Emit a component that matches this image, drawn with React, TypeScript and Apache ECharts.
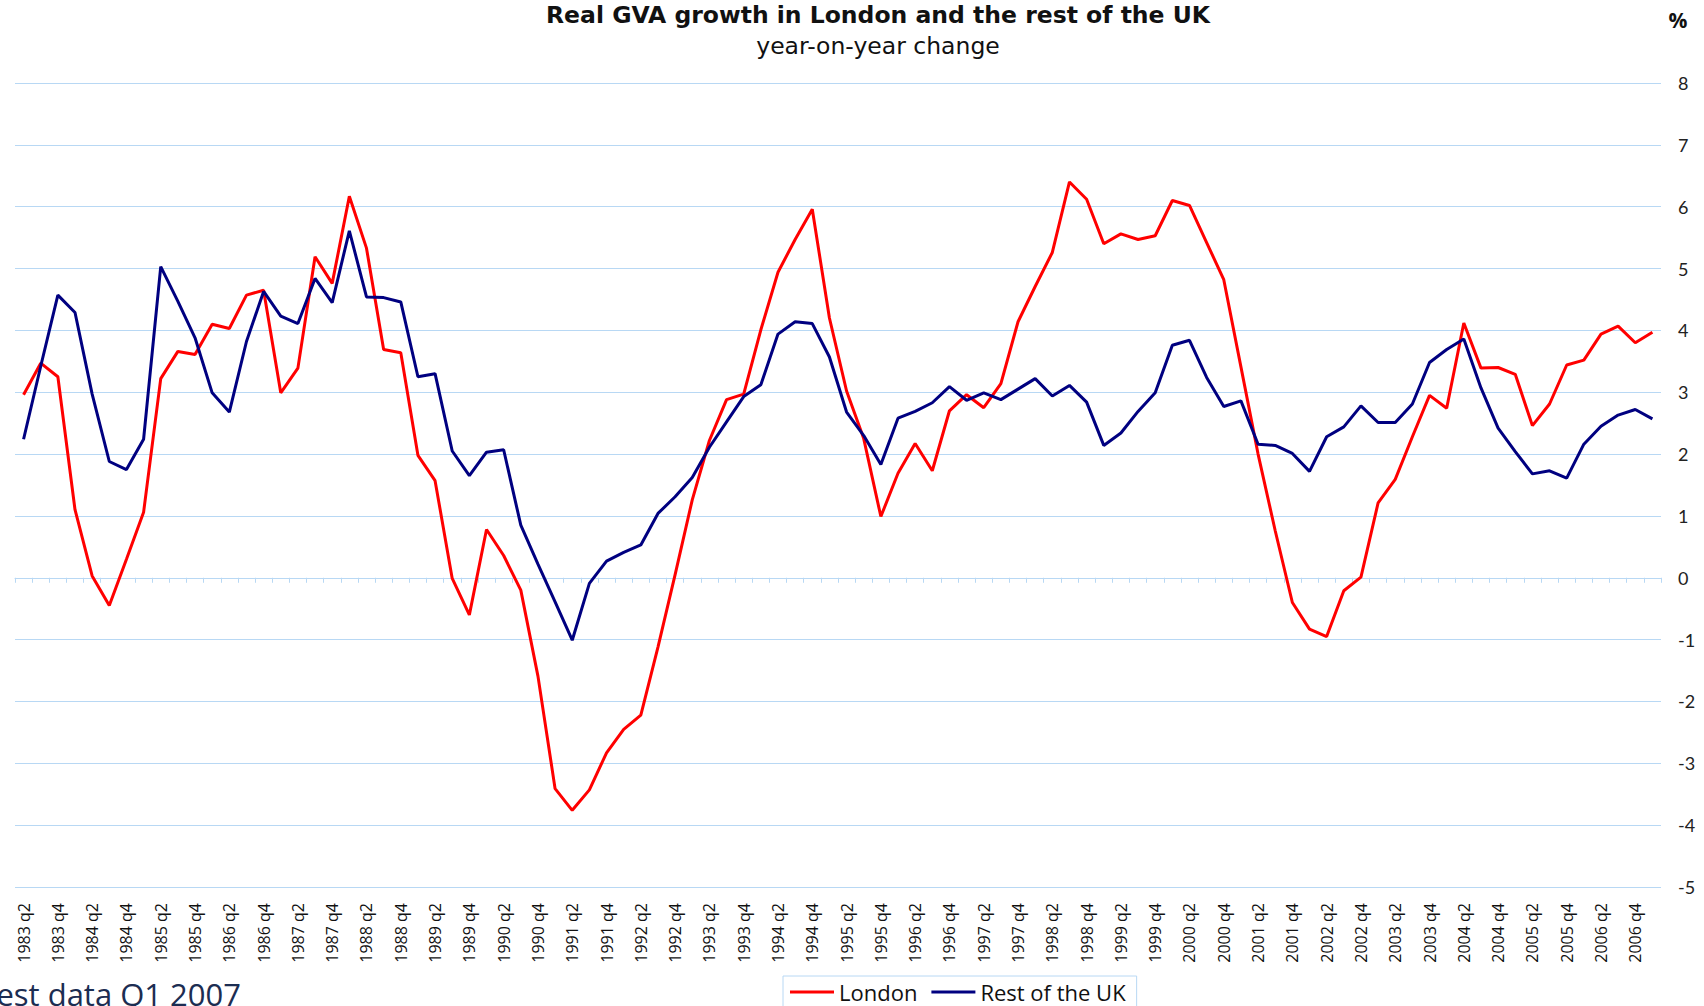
import React, { useEffect, useRef } from "react";
import * as echarts from "echarts";

const quarters: string[] = [
  "1983 q2", "1983 q3", "1983 q4",
  "1984 q1", "1984 q2", "1984 q3", "1984 q4",
  "1985 q1", "1985 q2", "1985 q3", "1985 q4",
  "1986 q1", "1986 q2", "1986 q3", "1986 q4",
  "1987 q1", "1987 q2", "1987 q3", "1987 q4",
  "1988 q1", "1988 q2", "1988 q3", "1988 q4",
  "1989 q1", "1989 q2", "1989 q3", "1989 q4",
  "1990 q1", "1990 q2", "1990 q3", "1990 q4",
  "1991 q1", "1991 q2", "1991 q3", "1991 q4",
  "1992 q1", "1992 q2", "1992 q3", "1992 q4",
  "1993 q1", "1993 q2", "1993 q3", "1993 q4",
  "1994 q1", "1994 q2", "1994 q3", "1994 q4",
  "1995 q1", "1995 q2", "1995 q3", "1995 q4",
  "1996 q1", "1996 q2", "1996 q3", "1996 q4",
  "1997 q1", "1997 q2", "1997 q3", "1997 q4",
  "1998 q1", "1998 q2", "1998 q3", "1998 q4",
  "1999 q1", "1999 q2", "1999 q3", "1999 q4",
  "2000 q1", "2000 q2", "2000 q3", "2000 q4",
  "2001 q1", "2001 q2", "2001 q3", "2001 q4",
  "2002 q1", "2002 q2", "2002 q3", "2002 q4",
  "2003 q1", "2003 q2", "2003 q3", "2003 q4",
  "2004 q1", "2004 q2", "2004 q3", "2004 q4",
  "2005 q1", "2005 q2", "2005 q3", "2005 q4",
  "2006 q1", "2006 q2", "2006 q3", "2006 q4",
  "2007 q1",
];

const london: number[] = [
  2.96, 3.47, 3.25, 1.1, 0.03, -0.45, 0.3, 1.06, 3.22, 3.66, 3.61, 4.1, 4.03, 4.57, 4.65, 2.99,
  3.39, 5.19, 4.76, 6.17, 5.33, 3.69, 3.64, 1.98, 1.57, -0.01, -0.6, 0.78, 0.36, -0.2, -1.59, -3.41,
  -3.76, -3.43, -2.83, -2.45, -2.22, -1.12, 0.05, 1.26, 2.22, 2.88, 2.97, 4.01, 4.94, 5.47, 5.96, 4.2,
  3.02, 2.25, 0.99, 1.69, 2.17, 1.73, 2.7, 2.96, 2.75, 3.14, 4.14, 4.71, 5.26, 6.4, 6.12, 5.4,
  5.56, 5.47, 5.53, 6.1, 6.02, 5.42, 4.82, 3.41, 2.0, 0.76, -0.4, -0.83, -0.95, -0.21, 0.01, 1.21,
  1.59, 2.28, 2.95, 2.74, 4.12, 3.39, 3.4, 3.29, 2.46, 2.81, 3.44, 3.52, 3.94, 4.07, 3.8, 3.97,
];

const restOfUK: number[] = [
  2.24, 3.42, 4.57, 4.29, 2.97, 1.88, 1.75, 2.24, 5.03, 4.47, 3.88, 2.99, 2.68, 3.82, 4.63, 4.23,
  4.11, 4.84, 4.45, 5.61, 4.54, 4.53, 4.46, 3.25, 3.3, 2.05, 1.65, 2.03, 2.07, 0.85, 0.22, -0.39,
  -1.01, -0.09, 0.27, 0.41, 0.53, 1.04, 1.31, 1.62, 2.11, 2.52, 2.93, 3.12, 3.94, 4.14, 4.11, 3.57,
  2.68, 2.3, 1.83, 2.58, 2.69, 2.83, 3.09, 2.87, 2.99, 2.88, 3.05, 3.22, 2.94, 3.11, 2.84, 2.14,
  2.34, 2.69, 2.99, 3.76, 3.84, 3.24, 2.77, 2.86, 2.16, 2.14, 2.01, 1.72, 2.28, 2.44, 2.78, 2.51,
  2.51, 2.81, 3.48, 3.69, 3.86, 3.07, 2.42, 2.04, 1.68, 1.73, 1.61, 2.16, 2.45, 2.63, 2.72, 2.57,
];

const TITLE = "Real GVA growth in London and the rest of the UK";
const SUBTITLE = "year-on-year change";
const UNIT = "%";
const NOTE = "Latest data Q1 2007";

const GRID_BLUE = "#b8d8f4";

export default function App() {
  const ref = useRef<HTMLDivElement>(null);

  useEffect(() => {
    if (!ref.current) return;
    const chart = echarts.init(ref.current, undefined, { renderer: "svg" });
    chart.setOption({
      animation: false,
      backgroundColor: "#ffffff",
      grid: { left: 15, right: 43, top: 83, bottom: 119 },
      legend: {
        left: 783,
        top: 976,
        itemWidth: 44,
        itemHeight: 3,
        itemGap: 14,
        padding: [5, 11, 14, 7],
        borderColor: GRID_BLUE,
        borderWidth: 1,
        textStyle: { fontSize: 22, fontFamily: "Open Sans", color: "#111" },
        data: [
          { name: "London", icon: "rect" },
          { name: "Rest of the UK", icon: "rect" },
        ],
      },
      xAxis: [
        {
          type: "category",
          data: quarters,
          position: "bottom",
          boundaryGap: true,
          axisLine: { show: false, onZero: false },
          axisTick: { show: false },
          splitLine: { show: false },
          axisLabel: {
            interval: 1,
            rotate: 90,
            margin: 16,
            fontSize: 16,
            fontFamily: "Open Sans",
            color: "#111",
          },
        },
        {
          type: "category",
          data: quarters,
          position: "bottom",
          boundaryGap: true,
          axisLine: { show: true, onZero: true, lineStyle: { color: GRID_BLUE, width: 1 } },
          axisTick: { show: true, interval: 0, length: 5, lineStyle: { color: GRID_BLUE } },
          axisLabel: { show: false },
          splitLine: { show: false },
        },
      ],
      yAxis: {
        type: "value",
        position: "right",
        min: -5,
        max: 8,
        interval: 1,
        axisLine: { show: false },
        axisTick: { show: false },
        splitLine: { show: true, lineStyle: { color: GRID_BLUE, width: 1 } },
        axisLabel: {
          margin: 17,
          fontSize: 18,
          fontFamily: "Lato",
          color: "#222",
        },
      },
      series: [
        {
          name: "London",
          type: "line",
          data: london,
          xAxisIndex: 0,
          symbol: "none",
          lineStyle: { color: "#ff0000", width: 3 },
          itemStyle: { color: "#ff0000" },
        },
        {
          name: "Rest of the UK",
          type: "line",
          data: restOfUK,
          xAxisIndex: 0,
          symbol: "none",
          lineStyle: { color: "#000080", width: 3 },
          itemStyle: { color: "#000080" },
        },
      ],
      graphic: [
        {
          type: "text",
          x: 878,
          y: 15,
          style: {
            text: TITLE,
            fill: "#111",
            fontSize: 23.5,
            fontWeight: "bold",
            fontFamily: "DejaVu Sans",
            align: "center",
            verticalAlign: "middle",
          },
        },
        {
          type: "text",
          x: 878,
          y: 46,
          style: {
            text: SUBTITLE,
            fill: "#111",
            fontSize: 23.5,
            fontFamily: "DejaVu Sans",
            align: "center",
            verticalAlign: "middle",
          },
        },
        {
          type: "text",
          x: 1678,
          y: 20,
          style: {
            text: UNIT,
            fill: "#111",
            fontSize: 21,
            fontWeight: "bold",
            fontFamily: "Open Sans",
            align: "center",
            verticalAlign: "middle",
          },
        },
        {
          type: "text",
          x: 241,
          y: 978,
          style: {
            text: NOTE,
            fill: "#1c2d52",
            fontSize: 31,
            fontFamily: "Open Sans",
            align: "right",
            verticalAlign: "top",
          },
        },
      ],
    });
    return () => chart.dispose();
  }, []);

  return (
    <div
      ref={ref}
      style={{ position: "fixed", left: 0, top: 0, width: 1704, height: 1006 }}
    />
  );
}
